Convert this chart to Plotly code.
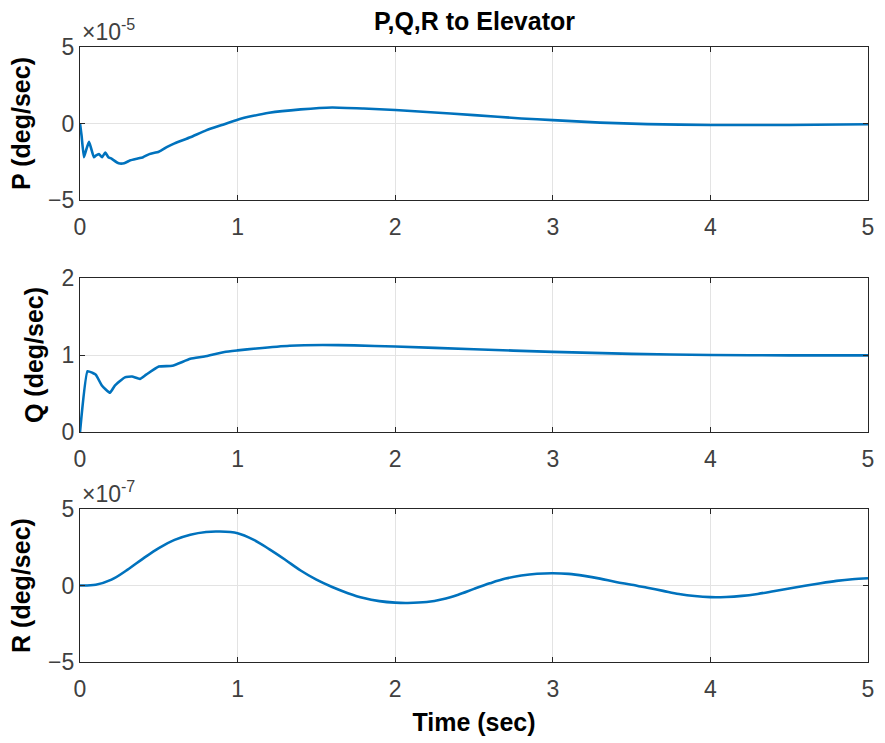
import plotly.graph_objects as go

# ---- data ----
t_p = [0, 0.01, 0.025, 0.04, 0.057, 0.07, 0.088, 0.1, 0.12, 0.14, 0.16, 0.18, 0.2, 0.245, 0.28, 0.32,
       0.36, 0.4, 0.44, 0.5, 0.55, 0.6, 0.7, 0.8, 0.9, 1.0, 1.1, 1.2, 1.4, 1.6, 1.8, 2.0, 2.2, 2.5,
       2.8, 3.0, 3.3, 3.6, 4.0, 4.5, 5.0]
p_vals = [0, -0.8, -2.2, -1.7, -1.2, -1.6, -2.2, -2.1, -2.0, -2.2, -1.9, -2.2, -2.3, -2.6, -2.6, -2.4,
          -2.3, -2.2, -2.0, -1.85, -1.55, -1.3, -0.9, -0.45, -0.1, 0.25, 0.5, 0.7, 0.92, 1.05, 0.98,
          0.88, 0.75, 0.55, 0.33, 0.22, 0.06, -0.04, -0.1, -0.1, -0.05]  # x 1e-5

t_q = [0, 0.048, 0.078, 0.1, 0.14, 0.19, 0.22, 0.285, 0.33, 0.38, 0.42, 0.5, 0.586, 0.7, 0.79, 0.917,
       1.0, 1.12, 1.33, 1.54, 1.74, 2.0, 2.5, 3.0, 3.5, 4.0, 4.5, 5.0]
q_vals = [0, 0.79, 0.77, 0.745, 0.6, 0.51, 0.6, 0.71, 0.72, 0.69, 0.745, 0.85, 0.86, 0.95, 0.98, 1.04,
          1.06, 1.085, 1.12, 1.13, 1.125, 1.11, 1.075, 1.04, 1.015, 1.0, 0.995, 0.995]

t_r = [0, 0.1, 0.2, 0.3, 0.4, 0.5, 0.6, 0.7, 0.8, 0.88, 1.0, 1.1, 1.2, 1.3, 1.4, 1.5, 1.6, 1.7,
       1.8, 1.9, 2.0, 2.08, 2.2, 2.3, 2.4, 2.5, 2.6, 2.7, 2.8, 2.9, 3.0, 3.1, 3.2, 3.3, 3.4, 3.5,
       3.6, 3.7, 3.8, 3.9, 4.0, 4.1, 4.2, 4.3, 4.4, 4.5, 4.6, 4.7, 4.8, 4.9, 5.0]
r_vals = [0, 0.05, 0.38, 1.02, 1.76, 2.45, 2.98, 3.32, 3.5, 3.53, 3.42, 3.0, 2.38, 1.7, 0.98, 0.38,
          -0.1, -0.5, -0.82, -1.02, -1.12, -1.14, -1.08, -0.9, -0.6, -0.22, 0.14, 0.45, 0.65, 0.77,
          0.8, 0.76, 0.63, 0.45, 0.23, 0.05, -0.15, -0.35, -0.55, -0.69, -0.76, -0.75, -0.68, -0.55,
          -0.38, -0.2, -0.02, 0.15, 0.3, 0.41, 0.47]  # x 1e-7

x_ticks = [0, 1, 2, 3, 4, 5]
p_ticks = [-5, 0, 5]
q_ticks = [0, 1, 2]
r_ticks = [-5, 0, 5]

title = "P,Q,R to Elevator"
ylabels = ["P (deg/sec)", "Q (deg/sec)", "R (deg/sec)"]
xlabel = "Time (sec)"

# ---- figure ----
LINE = "#0072BD"
AX = "#262626"
TICK = "#404040"
FONT = "Liberation Sans, Arial, sans-serif"
TICK_SIZE = 23
LABEL_SIZE = 25

fig = go.Figure()
fig.add_trace(go.Scatter(x=t_p, y=p_vals, mode="lines",
                         line=dict(color=LINE, width=2.6, shape="spline", smoothing=0.4),
                         xaxis="x", yaxis="y", showlegend=False))
fig.add_trace(go.Scatter(x=t_q, y=q_vals, mode="lines",
                         line=dict(color=LINE, width=2.6, shape="spline", smoothing=0.4),
                         xaxis="x2", yaxis="y2", showlegend=False))
fig.add_trace(go.Scatter(x=t_r, y=r_vals, mode="lines",
                         line=dict(color=LINE, width=2.6, shape="spline"),
                         xaxis="x3", yaxis="y3", showlegend=False))

H_TOT = 615.0
doms = [(462 / H_TOT, 1.0), (230 / H_TOT, 384 / H_TOT), (0.0, 153 / H_TOT)]
yr = [(-5, 5), (0, 2), (-5, 5)]
yt = [p_ticks, q_ticks, r_ticks]

common_x = dict(range=[0, 5], tickvals=x_ticks, ticks="inside", ticklen=5, tickcolor=AX,
                showline=True, linecolor=AX, linewidth=1.2, mirror="ticks",
                showgrid=True, gridcolor="#e3e3e3", gridwidth=1, zeroline=False,
                domain=[0, 1], ticklabelstandoff=6,
                tickfont=dict(family=FONT, size=TICK_SIZE, color=TICK))
common_y = dict(ticks="inside", ticklen=5, tickcolor=AX,
                showline=True, linecolor=AX, linewidth=1.2, mirror="ticks",
                showgrid=True, gridcolor="#e3e3e3", gridwidth=1, zeroline=False,
                tickfont=dict(family=FONT, size=TICK_SIZE, color=TICK))

layout = dict(width=885, height=743, margin=dict(l=80, r=11, t=47, b=81),
              plot_bgcolor="white", paper_bgcolor="white", showlegend=False)
for i in range(3):
    xa = "xaxis" if i == 0 else f"xaxis{i+1}"
    ya = "yaxis" if i == 0 else f"yaxis{i+1}"
    layout[xa] = dict(common_x, anchor="y" if i == 0 else f"y{i+1}")
    layout[ya] = dict(common_y, domain=list(doms[i]), range=list(yr[i]), tickvals=yt[i],
                      anchor="x" if i == 0 else f"x{i+1}",
                      title=dict(text=f"<b>{ylabels[i]}</b>", standoff=10,
                                 font=dict(family=FONT, size=LABEL_SIZE, color="#000000")))
layout["xaxis3"]["title"] = dict(text=f"<b>{xlabel}</b>", standoff=12,
                                 font=dict(family=FONT, size=LABEL_SIZE, color="#000000"))

fig.update_layout(**layout)

fig.add_annotation(text=f"<b>{title}</b>", xref="paper", yref="paper", x=0.5, y=1.0, yshift=10,
                   yanchor="bottom", showarrow=False,
                   font=dict(family=FONT, size=LABEL_SIZE, color="#000000"))
for xref, yref, exp in [("x domain", "y domain", "-5"), ("x3 domain", "y3 domain", "-7")]:
    fig.add_annotation(text=f"×10<sup>{exp}</sup>", xref=xref, yref=yref, x=0, y=1,
                       xanchor="left", yanchor="bottom", yshift=0,
                       showarrow=False, font=dict(family=FONT, size=23, color=TICK))

fig.write_html("out.html")
